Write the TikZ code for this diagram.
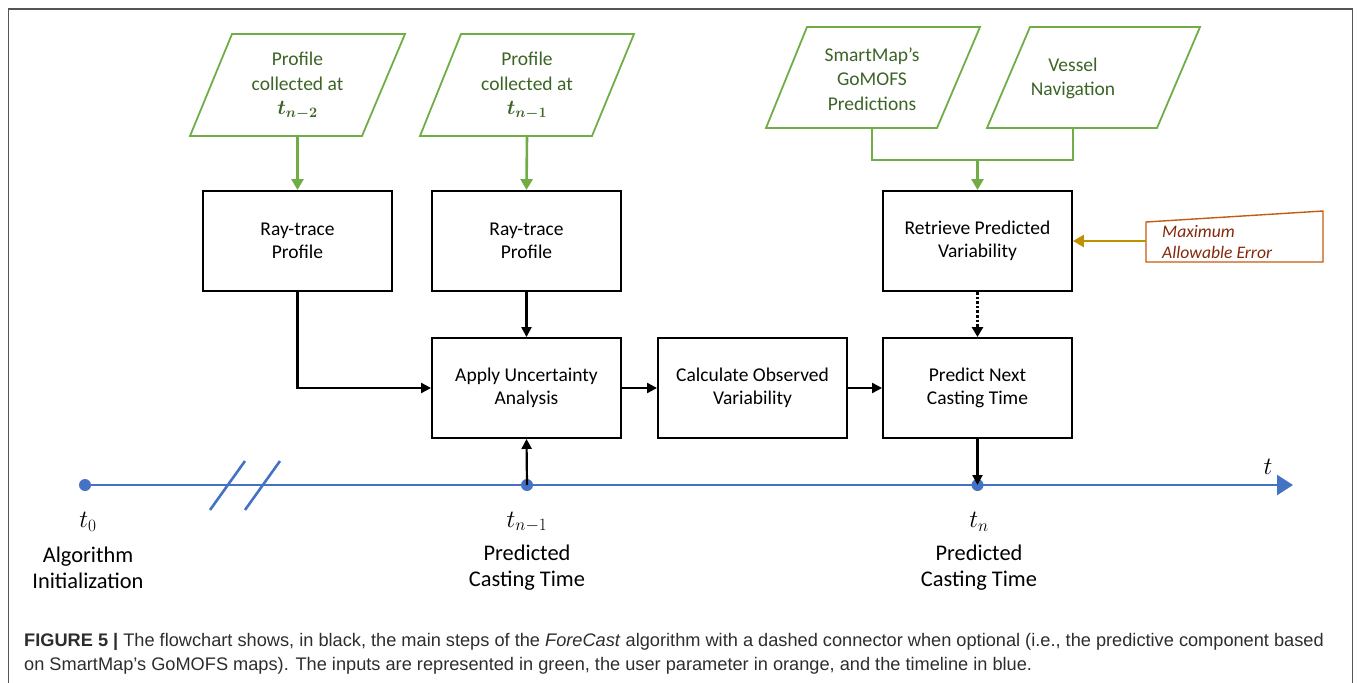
\documentclass[tikz,border=0pt]{standalone}
\usepackage{amsmath}
\usepackage{bm}
\usepackage{fontspec}
\setmainfont{Carlito}
\newfontfamily\capfont{Liberation Sans}
\usetikzlibrary{arrows.meta}
\definecolor{gline}{RGB}{112,173,71}
\definecolor{gtext}{RGB}{60,100,38}
\definecolor{tblue}{RGB}{68,114,196}
\definecolor{gold}{RGB}{191,144,0}
\definecolor{oborder}{RGB}{197,90,17}
\definecolor{otext}{RGB}{132,40,12}
\definecolor{framegray}{RGB}{85,85,85}
\definecolor{captext}{RGB}{45,45,45}
\begin{document}
\begin{tikzpicture}[x=1pt,y=-1pt,
  stepbox/.style={draw=black,line width=1.9pt,minimum width=189pt,minimum height=100pt,align=center,inner sep=0pt,font=\fontsize{19.5}{23.5}\selectfont},
  inshape/.style={draw=gline,line width=1.8pt},
  intext/.style={text=gtext,align=center,font=\fontsize{19.5}{24.5}\selectfont},
  blk/.style={line width=2.2pt,-{Triangle[length=10pt,width=10pt]}},
  grn/.style={draw=gline,line width=2.6pt},
  grnarr/.style={grn,-{Triangle[length=11pt,width=12pt]}},
  tl/.style={draw=tblue,line width=2.6pt},
  tdot/.style={circle,fill=tblue,minimum size=12pt,inner sep=0pt},
  tlab/.style={align=center,font=\fontsize{22.4}{26}\selectfont},
  tmath/.style={font=\fontsize{24}{26}\selectfont}]
\useasboundingbox (0,0) rectangle (1358,683);
% frame
\draw[framegray,line width=1.2pt] (8.5,683) -- (8.5,9) -- (1352.5,9) -- (1352.5,683);
% input parallelograms
\draw[inshape] (232,34) -- (405,34) -- (362,136) -- (190,136) -- cycle;
\node[intext] (in1) at (297.5,86) {Profile\\collected at\\$\bm{t_{n-2}}$};
\coordinate (in1b) at (297.5,136);
\draw[inshape] (461,34) -- (634,34) -- (592,136) -- (420,136) -- cycle;
\node[intext] (in2) at (527,86) {Profile\\collected at\\$\bm{t_{n-1}}$};
\coordinate (in2b) at (527,136);
\draw[inshape] (807,27) -- (980,27) -- (937,128) -- (766,128) -- cycle;
\node[intext] (in3) at (872,79) {SmartMap’s\\GoMOFS\\Predictions};
\coordinate (in3b) at (872,128);
\draw[inshape] (1030,27) -- (1200,27) -- (1157,128) -- (987,128) -- cycle;
\node[intext] (in4) at (1073,78.5) {Vessel\\Navigation};
\coordinate (in4b) at (1073,128);
% process boxes
\node[stepbox] (ray1) at (297.5,241) {Ray-trace\\Profile};
\node[stepbox] (ray2) at (526.5,241) {Ray-trace\\Profile};
\node[stepbox] (ret) at (977.5,241) {Retrieve Predicted\\Variability};
\node[stepbox] (apply) at (526.5,388) {Apply Uncertainty\\Analysis};
\node[stepbox] (calc) at (752.5,388) {Calculate Observed\\Variability};
\node[stepbox] (pred) at (977.5,388) {Predict Next\\Casting Time};
% max error box
\draw[draw=oborder,line width=1.4pt] (1146,222) -- (1323,211) -- (1323,262) -- (1146,262) -- cycle;
\node[anchor=west,align=left,text=otext,font=\fontsize{17.6}{21}\itshape\selectfont,inner sep=0pt] (maxerr) at (1162,242) {Maximum\\Allowable Error};
\coordinate (maxl) at (1146,241);
% green connectors
\draw[grnarr] (in1b) -- (ray1.north);
\draw[grnarr] (in2b) -- (ray2.north);
\draw[grn] (in3b) -- (872,160) -- (1073,160) -- (in4b);
\coordinate (gj) at (977.5,160);
\draw[grnarr] (gj) -- (ret.north);
% gold arrow
\draw[draw=gold,line width=2.6pt,-{Triangle[length=11pt,width=12pt]}] (maxl) -- (ret.east |- maxl);
% black connectors
\draw[blk] (ray1.south) |- (apply.west);
\draw[blk] (ray2.south) -- (apply.north);
\draw[blk] (apply.east) -- (calc.west);
\draw[blk] (calc.east) -- (pred.west);
\draw[line width=2.6pt,dotted,-{Triangle[length=10pt,width=11pt]}] (ret.south) -- (pred.north);
% timeline
\node[tdot] (d0) at (85,485) {};
\node[tdot] (d1) at (527,485) {};
\node[tdot] (d2) at (977.5,485) {};
\coordinate (tend) at (1293,485);
\draw[tl,-{Triangle[length=16pt,width=20pt]}] (d0.center) -- (tend);
\draw[tl] (210,510) -- (245,461);
\draw[tl] (245,510) -- (280,461);
\draw[blk] (d1.center) -- (apply.south);
\draw[blk] (pred.south) -- (d2.center);
\node[tmath] (tlab) at (1268,467) {$t$};
\node[tmath] (l0) at (88,522) {$t_0$};
\node[tlab] (l0t) at (88,568) {Algorithm\\Initialization};
\node[tmath] (l1) at (527,522) {$t_{n-1}$};
\node[tlab] (l1t) at (527,568) {Predicted\\Casting Time};
\node[tmath] (l2) at (979,522) {$t_n$};
\node[tlab] (l2t) at (979,568) {Predicted\\Casting Time};
% caption
\node[anchor=base west,align=left,inner sep=0pt,text=captext,font=\capfont\fontsize{18.2}{23.5}\selectfont] (cap) at (24,670) {\textbf{FIGURE 5 |} The flowchart shows, in black, the main steps of the \textit{ForeCast} algorithm with a dashed connector when optional (i.e., the predictive component based\\on SmartMap’s GoMOFS maps). The inputs are represented in green, the user parameter in orange, and the timeline in blue.};
\end{tikzpicture}
\end{document}
